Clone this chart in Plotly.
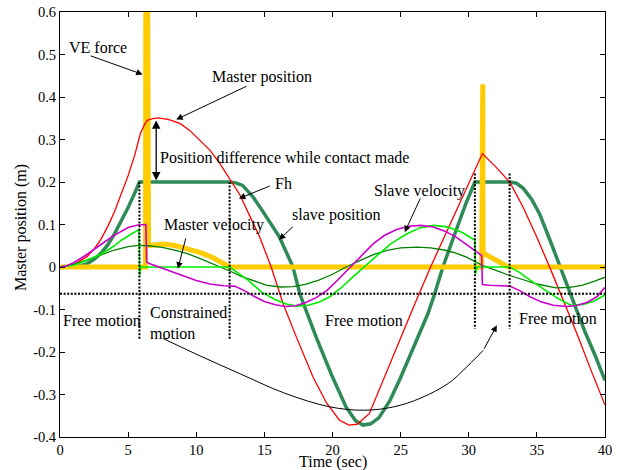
import plotly.graph_objects as go

# ---------------- data ----------------
# Master position (red)
t_mp = [0, 1, 2, 2.5, 3, 3.5, 4, 4.5, 5, 5.5, 5.9, 6.2, 6.4, 6.8, 7.2, 8, 8.8, 9.5, 10.3,
        11, 11.7, 12.5, 13.2, 14, 14.65, 15.5, 16.37, 17.35, 18.57, 19.56, 20.5, 21.2, 21.8,
        22.7, 23.5, 24.7, 26, 27.2, 28.1, 29.85, 31, 32, 33, 34, 35, 36, 37, 38, 39, 40]
v_mp = [0, 0.005, 0.025, 0.042, 0.065, 0.095, 0.13, 0.172, 0.215, 0.265, 0.314, 0.335, 0.345,
        0.349, 0.351, 0.347, 0.338, 0.322, 0.298, 0.275, 0.245, 0.205, 0.17, 0.115, 0.071, 0.0,
        -0.086, -0.165, -0.259, -0.32, -0.36, -0.372, -0.37, -0.345, -0.283, -0.188, -0.09, 0.0,
        0.063, 0.188, 0.267, 0.235, 0.2, 0.14, 0.07, -0.005, -0.082, -0.162, -0.245, -0.325]

# Slave position (thick sea green)
t_sp = [0, 1, 1.5, 2, 2.5, 3, 3.5, 4, 4.5, 5, 5.5, 5.83, 12.45, 12.9, 13.4, 14.16, 14.8, 15.4,
        16.1, 17.1, 17.6, 18.8, 20.0, 21.0, 21.7, 22.25, 22.8, 23.4, 24.2, 25, 26, 27, 27.5,
        28.1, 29, 29.8, 30.45, 33.0, 33.5, 34, 34.6, 35.2, 36, 36.7, 37.5, 38.5, 39.3, 40]
v_sp = [0, 0.001, 0.003, 0.008, 0.018, 0.032, 0.052, 0.078, 0.108, 0.14, 0.175, 0.2, 0.2, 0.198,
        0.192, 0.165, 0.135, 0.105, 0.071, 0.0, -0.063, -0.165, -0.259, -0.33, -0.362, -0.372,
        -0.369, -0.355, -0.315, -0.26, -0.185, -0.11, -0.063, 0.0, 0.08, 0.15, 0.2, 0.2, 0.197,
        0.185, 0.16, 0.125, 0.06, 0.0, -0.07, -0.15, -0.21, -0.267]

# VE force (thick yellow)
t_ve = [0, 6.28, 6.3, 6.42, 6.5, 7, 7.6, 8.5, 9.4, 10.3, 11.1, 11.8, 12.45, 30.95, 30.97,
        31.03, 31.05, 32.0, 32.9, 40]
v_ve = [0, 0, 0.75, 0.75, 0.05, 0.053, 0.054, 0.05, 0.043, 0.034, 0.024, 0.013, 0.0, 0.0, 0.43,
        0.43, 0.033, 0.017, 0.0, 0.0]

# Slave velocity (magenta)
t_sv = [0, 0.5, 1, 2, 3, 4, 5, 5.7, 6.3, 6.36, 6.5, 7, 8, 9, 10, 11, 12, 12.8, 13.5, 14.3, 15,
        15.8, 16.5, 17.3, 18, 18.8, 19.6, 20.4, 21.3, 22.2, 23, 23.8, 24.7, 25.6, 26.5, 27.4,
        28.2, 29, 29.8, 30.5, 30.95, 31.0, 31.5, 32.3, 33, 33.7, 34.5, 35.3, 36.2, 37.2, 38,
        38.7, 39.4, 40]
v_sv = [0, 0.003, 0.01, 0.03, 0.053, 0.075, 0.093, 0.099, 0.1, 0.012, 0.009, 0.003, -0.009,
        -0.021, -0.032, -0.04, -0.044, -0.045, -0.055, -0.07, -0.081, -0.089, -0.093, -0.091,
        -0.084, -0.072, -0.055, -0.03, 0.0, 0.03, 0.055, 0.074, 0.088, 0.096, 0.098, 0.094,
        0.085, 0.072, 0.054, 0.038, 0.027, -0.041, -0.043, -0.044, -0.045, -0.055, -0.07,
        -0.082, -0.09, -0.093, -0.09, -0.083, -0.07, -0.048]

# Master velocity (light green)
t_mv = [0, 1, 2, 3, 4, 4.5, 5, 5.5, 5.8, 5.85, 5.92, 12.45, 13, 13.8, 14.8, 15.75, 16.6, 17.4,
        18.2, 19, 19.8, 20.6, 21.4, 22.3, 23.3, 24.3, 25.4, 26.4, 27.4, 28.3, 29, 29.6, 30.1,
        30.45, 30.5, 30.6, 33.0, 33.7, 34.5, 35.7, 36.6, 37.5, 38.4, 39.2, 40]
v_mv = [0, 0.004, 0.016, 0.03, 0.05, 0.063, 0.073, 0.083, 0.088, -0.02, 0.0, 0.0, -0.012, -0.031,
        -0.059, -0.076, -0.087, -0.092, -0.09, -0.083, -0.07, -0.05, -0.026, 0.0, 0.028, 0.055,
        0.077, 0.092, 0.098, 0.095, 0.088, 0.08, 0.07, 0.063, -0.016, 0.0, 0.0, -0.012, -0.031,
        -0.055, -0.075, -0.09, -0.088, -0.08, -0.066]

# Thin dark green curve
t_dg = [0, 1, 2, 3, 4, 5, 5.8, 6.5, 7.5, 8.5, 9.4, 10.2, 10.9, 11.7, 12.5, 13.3, 14.3, 15.2,
        16.2, 17.1, 18, 19, 20, 21, 22, 23, 24, 25, 26.2, 27.2, 28.2, 29, 29.8, 30.4, 31, 32,
        33, 34, 35, 36.4, 37.4, 38.3, 39.2, 40]
v_dg = [0, 0.006, 0.017, 0.029, 0.04, 0.048, 0.051, 0.05, 0.046, 0.039, 0.031, 0.021, 0.012,
        0.0, -0.01, -0.022, -0.034, -0.043, -0.047, -0.046, -0.041, -0.031, -0.017, 0.0, 0.015,
        0.029, 0.039, 0.045, 0.047, 0.045, 0.04, 0.033, 0.024, 0.014, 0.004, -0.008, -0.02,
        -0.03, -0.04, -0.049, -0.048, -0.043, -0.034, -0.024]

# Contact phase markers (dotted lines)
contact_on = [5.83, 30.45]
contact_off = [12.45, 33.0]
marker_top = [0.2, 0.22]
marker_bottom = [-0.17, -0.145]
boundary_level = -0.063

# Black guide curve linking the "Constrained motion" label to the second contact
t_guide = [7.55, 10.2, 13.2, 16.5, 19.8, 22.3, 24.5, 26.5, 28.5, 29.6, 31.07]
v_guide = [-0.168, -0.208, -0.251, -0.297, -0.329, -0.337, -0.329, -0.308, -0.274, -0.243, -0.196]

x_ticks = [0, 5, 10, 15, 20, 25, 30, 35, 40]
y_ticks = [-0.4, -0.3, -0.2, -0.1, 0, 0.1, 0.2, 0.3, 0.4, 0.5, 0.6]
y_ticktext = ['-0.4', '-0.3', '-0.2', '-0.1', '0', '0.1', '0.2', '0.3', '0.4', '0.5', '0.6']

FONT = 'Liberation Serif, Times New Roman, serif'

fig = go.Figure()

fig.add_trace(go.Scatter(x=t_sp, y=v_sp, mode='lines', line=dict(color='#2E8B57', width=3.5),
                         name='slave position'))
fig.add_trace(go.Scatter(x=t_ve, y=v_ve, mode='lines', line=dict(color='#FFCC00', width=5),
                         name='VE force'))
fig.add_trace(go.Scatter(x=t_mp, y=v_mp, mode='lines', line=dict(color='#FF0000', width=1.3),
                         name='Master position'))
fig.add_trace(go.Scatter(x=t_dg, y=v_dg, mode='lines', line=dict(color='#008000', width=1.3),
                         name='dark green'))
fig.add_trace(go.Scatter(x=t_mv, y=v_mv, mode='lines', line=dict(color='#00EE00', width=1.6),
                         name='Master velocity'))
fig.add_trace(go.Scatter(x=t_sv, y=v_sv, mode='lines', line=dict(color='#CC00CC', width=1.6),
                         name='Slave velocity'))

# dotted lines
dx, dy = [], []
for a, b, top, bot in zip(contact_on, contact_off, marker_top, marker_bottom):
    dx += [a, a, None, b, b, None]
    dy += [top, bot, None, top, bot, None]
dx += [x_ticks[0], x_ticks[-1]]
dy += [boundary_level, boundary_level]
fig.add_trace(go.Scatter(x=dx, y=dy, mode='lines',
                         line=dict(color='black', width=2, dash='2px,1.6px'), name='phases'))

fig.add_trace(go.Scatter(x=t_guide, y=v_guide, mode='lines', line=dict(color='black', width=1),
                         line_shape='spline', name='guide'))

texts = [
    ('VE force', 0.54, 0.517),
    ('Master position', 10.98, 0.446),
    ('Position difference while contact made', 7.18, 0.257),
    ('Fh', 15.63, 0.196),
    ('slave position', 16.86, 0.122),
    ('Master velocity', 7.52, 0.098),
    ('Slave velocity', 22.87, 0.18),
    ('Free motion', 0.07, -0.125),
    ('Constrained<br>motion', 6.44, -0.131),
    ('Free motion', 19.31, -0.127),
    ('Free motion', 33.53, -0.12),
]
for txt, x, y in texts:
    fig.add_annotation(x=x, y=y, text=txt, showarrow=False, xanchor='left', yanchor='middle',
                       align='left', font=dict(family=FONT, size=16, color='black'))

arrows = [
    ((6.07, 0.453), (2.15, 0.498)),
    ((8.53, 0.347), (13.8, 0.427)),
    ((13.13, 0.161), (15.5, 0.192)),
    ((16.07, 0.064), (17.2, 0.098)),
    ((8.65, -0.004), (9.26, 0.071)),
    ((25.3, 0.082), (26.5, 0.165)),
    ((32.06, -0.137), (31.07, -0.196)),
]
for (hx, hy), (tx, ty) in arrows:
    fig.add_annotation(x=hx, y=hy, ax=tx, ay=ty, axref='x', ayref='y', text='',
                       showarrow=True, arrowhead=2, arrowsize=1.3, arrowwidth=1,
                       arrowcolor='black', standoff=0, startstandoff=0)

# double-headed arrow for position difference
fig.add_annotation(x=7.06, y=0.345, ax=7.06, ay=0.2, axref='x', ayref='y', text='',
                   showarrow=True, arrowhead=2, startarrowhead=2, arrowside='end+start',
                   arrowsize=1.3, startarrowsize=1.3, arrowwidth=1.3, arrowcolor='black')

# axis titles
fig.add_annotation(x=0.5, y=-0.059, xref='paper', yref='paper', text='Time (sec)',
                   showarrow=False, xanchor='center', yanchor='middle',
                   font=dict(family=FONT, size=16, color='black'))
fig.add_annotation(x=-0.0716, y=0.494, xref='paper', yref='paper', text='Master position (m)',
                   showarrow=False, textangle=-90, xanchor='center', yanchor='middle',
                   font=dict(family=FONT, size=16, color='black'))

axis_common = dict(showline=True, linecolor='black', linewidth=1, mirror='ticks',
                   ticks='inside', ticklen=5, tickcolor='black', showgrid=False,
                   zeroline=False, automargin=False, ticklabeloverflow='allow',
                   tickfont=dict(family=FONT, size=14.5, color='black'))

fig.update_layout(
    width=637, height=470,
    margin=dict(l=60, r=32, t=12, b=33, autoexpand=False),
    paper_bgcolor='white', plot_bgcolor='white',
    showlegend=False,
    xaxis=dict(range=[0, 40], tickvals=x_ticks, ticktext=[str(v) for v in x_ticks], **axis_common),
    yaxis=dict(range=[-0.4, 0.6], tickvals=y_ticks, ticktext=y_ticktext, **axis_common),
)

# remove the default page margin so the figure fills the window exactly
fig.write_html('out.html', config={'displayModeBar': False},
               post_script="document.body.style.margin='0px';")
